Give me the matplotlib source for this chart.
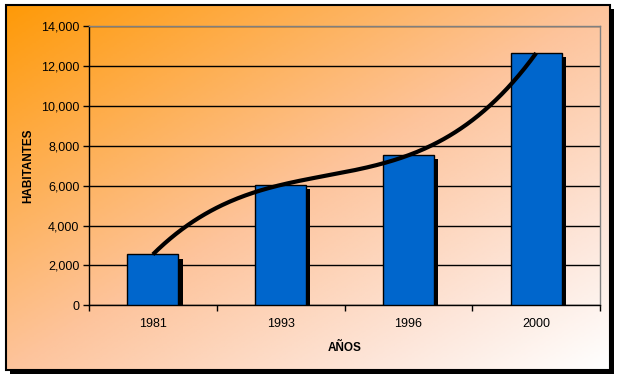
import numpy as np
import matplotlib.pyplot as plt
import matplotlib.patheffects as pe
from matplotlib.colors import LinearSegmentedColormap
from matplotlib.patches import Rectangle

plt.rcParams['font.family'] = ['Liberation Sans', 'DejaVu Sans']

years = ['1981', '1993', '1996', '2000']
habitantes = [2550, 6030, 7520, 12640]
y_ticks = [0, 2000, 4000, 6000, 8000, 10000, 12000, 14000]

W, H = 618, 378
fig = plt.figure(figsize=(W / 100, H / 100), dpi=100)

# chart area background (diagonal orange -> white gradient) with frame and shadow
x0, y0, x1, y1 = 6, 5, 610, 370
bg = fig.add_axes([x0 / W, 1 - y1 / H, (x1 - x0) / W, (y1 - y0) / H])
bg.set_axis_off()
gx, gy = np.meshgrid(np.linspace(0, 1, 300), np.linspace(0, 1, 200))
t = (gx + gy) / 2
cmap = LinearSegmentedColormap.from_list(
    'grad', [(0.0, '#ff9a08'), (0.5, '#fdc49c'), (0.8, '#fde6da'), (1.0, '#ffffff')])
bg.imshow(t, cmap=cmap, aspect='auto', extent=[0, 1, 0, 1], origin='upper')
bg.set_xlim(0, 1)
bg.set_ylim(0, 1)

shadow = Rectangle(((x0 + 4) / W, 1 - (y1 + 4) / H), (x1 - x0) / W, (y1 - y0) / H,
                   transform=fig.transFigure, facecolor='black', edgecolor='none', zorder=-5)
fig.patches.append(shadow)
frame = Rectangle((x0 / W, 1 - y1 / H), (x1 - x0) / W, (y1 - y0) / H,
                  transform=fig.transFigure, facecolor='none', edgecolor='black', lw=1.5, zorder=5)
fig.patches.append(frame)

# plot area
px0, px1, py_top, py_bot = 89, 600, 26, 305.3
ax = fig.add_axes([px0 / W, 1 - py_bot / H, (px1 - px0) / W, (py_bot - py_top) / H])
ax.set_facecolor('none')

x = np.arange(len(years))
bars = ax.bar(x, habitantes, width=0.4, color='#0066cc', edgecolor='black', lw=1, zorder=3)
for b in bars:
    b.set_path_effects([pe.SimplePatchShadow(offset=(3, -3), shadow_rgbFace='black', alpha=1),
                        pe.Normal()])

# polynomial trendline (order 3) through the series
coef = np.polyfit(x, habitantes, 3)
xs = np.linspace(0, 3, 200)
ax.plot(xs, np.polyval(coef, xs), color='black', lw=3, zorder=4, solid_capstyle='butt')

ax.set_xlim(-0.5, 3.5)
ax.set_ylim(0, 14000)
ax.set_yticks(y_ticks)
ax.set_yticklabels([f'{v:,}' for v in y_ticks], fontsize=9)
ax.set_xticks(x)
ax.set_xticklabels(years, fontsize=9)
ax.tick_params(axis='x', length=0, pad=9)
ax.set_xticks(np.arange(-0.5, 4, 1), minor=True)
ax.tick_params(axis='x', which='minor', length=4, width=1, color='black', direction='out')
ax.tick_params(axis='y', length=4, width=1, direction='out', pad=3)
ax.grid(axis='y', color='black', lw=1, zorder=1)
ax.set_axisbelow(True)

for s in ['left', 'bottom']:
    ax.spines[s].set_color('black')
    ax.spines[s].set_linewidth(1)
for s in ['top', 'right']:
    ax.spines[s].set_color('#808080')
    ax.spines[s].set_linewidth(1)

ax.set_ylabel('HABITANTES', fontsize=8.5, fontweight='bold', labelpad=5)
ax.set_xlabel('AÑOS', fontsize=8.5, fontweight='bold', labelpad=9)

fig.savefig('out.png', dpi=100)
